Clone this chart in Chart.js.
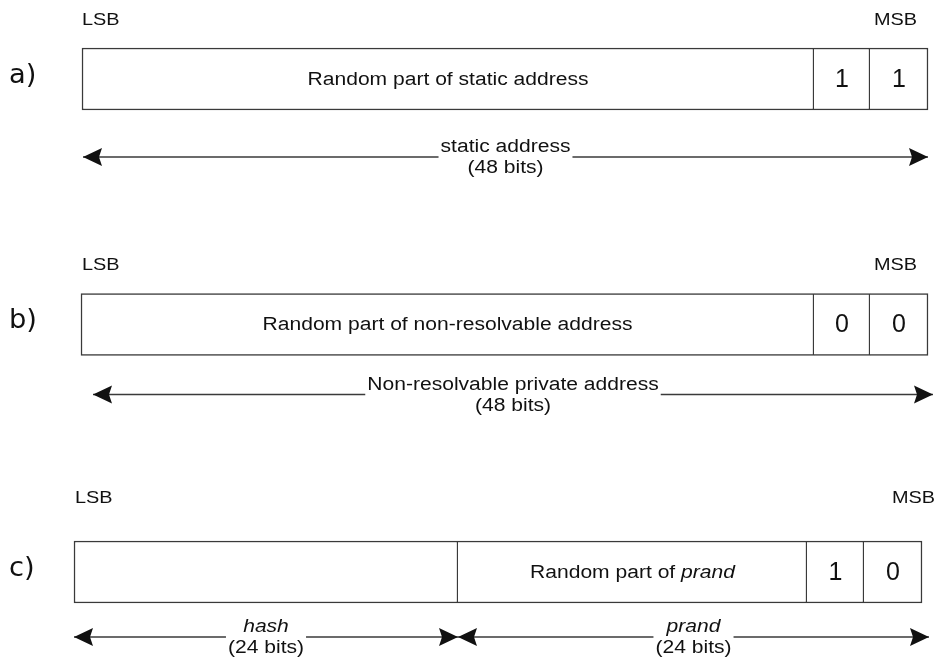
<!DOCTYPE html>
<html>
<head>
<meta charset="utf-8">
<script src="https://cdn.jsdelivr.net/npm/chart.js@4/dist/chart.umd.min.js"></script>
<style>
  body { margin: 0; background: #fff; }
  #wrap { width: 937px; height: 661px; }
</style>
</head>
<body>
<div id="wrap"><canvas id="diagram"></canvas></div>
<script>
// rows of the address diagram
const rowNames = ['a)', 'b)', 'c)'];
const rowY = [79, 324.5, 572];
const cellEdges = [
    [82, 814, 870, 928],
    [81, 814, 870, 928],
    [74, 458, 807, 864, 922],
];
const cellTexts = [
    ['Random part of static address', '1', '1'],
    ['Random part of non-resolvable address', '0', '0'],
    ['', 'Random part of *prand*', '1', '0'],
];

// dimension arrows under each row
const arrowY = [157, 394.5, 637];
const arrowSpans = [
    [[83, 928]],
    [[93, 933]],
    [[74, 458], [458, 929]],
];
const arrowNames = [
    ['static address'],
    ['Non-resolvable private address'],
    ['*hash*', '*prand*'],
];
const arrowBits = [[48], [48], [24, 24]];

// LSB / MSB markers: [lsb x, msb x, baseline]
const markerPos = [[82, 917, 25], [82, 917, 270], [75, 935, 503]];

const SX = 1.17; // source text is a bit wide
const INK = '#111';
const LINE = '#3a3a3a';
const SANS = '"Liberation Sans", Arial, sans-serif';
const bodyFont = (it) => (it ? 'italic ' : '') + '18px ' + SANS;

const mctx = document.createElement('canvas').getContext('2d');

function parts(str) {
    // *text* means italic
    return str.split('*').map((s, i) => ({ s: s, it: i % 2 == 1 })).filter(p => p.s);
}

function widthOf(str) {
    let w = 0;
    parts(str).forEach(p => {
        mctx.font = bodyFont(p.it);
        w += mctx.measureText(p.s).width * SX;
    });
    return w;
}

function drawRich(ctx, str, cx, y, baseline) {
    let x = cx - widthOf(str) / 2;
    parts(str).forEach(p => {
        ctx.save();
        ctx.font = bodyFont(p.it);
        ctx.textAlign = 'left';
        ctx.textBaseline = baseline;
        ctx.translate(x, y);
        ctx.scale(SX, 1);
        ctx.fillText(p.s, 0, 0);
        ctx.restore();
        mctx.font = bodyFont(p.it);
        x += mctx.measureText(p.s).width * SX;
    });
}

function drawText(ctx, str, x, y, font, align, baseline, sx) {
    ctx.save();
    ctx.font = font;
    ctx.textAlign = align;
    ctx.textBaseline = baseline;
    ctx.translate(x, y);
    ctx.scale(sx || SX, 1);
    ctx.fillText(str, 0, 0);
    ctx.restore();
}

// cells as floating bars
const cells = [];
const firstCell = [];
cellEdges.forEach((edges, r) => {
    for (let i = 0; i < edges.length - 1; i++) {
        cells.push({ y: rowY[r], x: [edges[i], edges[i + 1]] });
        firstCell.push(i == 0);
    }
});

// arrow shafts, broken around the label
const shafts = [];
arrowSpans.forEach((spans, r) => {
    spans.forEach((sp, k) => {
        const mid = (sp[0] + sp[1]) / 2;
        const gap = Math.max(widthOf(arrowNames[r][k]), widthOf('(' + arrowBits[r][k] + ' bits)')) + 4;
        shafts.push([{ x: sp[0], y: arrowY[r] }, { x: mid - gap / 2, y: arrowY[r] }]);
        shafts.push([{ x: mid + gap / 2, y: arrowY[r] }, { x: sp[1], y: arrowY[r] }]);
    });
});

const datasets = [{
    type: 'bar',
    data: cells,
    backgroundColor: '#fff',
    borderColor: LINE,
    borderSkipped: false,
    borderWidth: c => firstCell[c.dataIndex] ? 1.5 : { top: 1.5, right: 1.5, bottom: 1.5, left: 0 },
    barThickness: 62,
}];
shafts.forEach(s => {
    datasets.push({
        type: 'line',
        data: s,
        borderColor: LINE,
        borderWidth: 1.4,
        pointRadius: 0,
        fill: false,
    });
});

const labelsPlugin = {
    id: 'labels',
    afterDatasetsDraw(chart) {
        const ctx = chart.ctx;
        const xs = chart.scales.x, ys = chart.scales.y;
        ctx.save();
        ctx.fillStyle = INK;

        rowNames.forEach((name, r) => {
            const cy = ys.getPixelForValue(rowY[r]);
            drawText(ctx, name, 9, cy - 3, '26px "DejaVu Sans", sans-serif', 'left', 'middle', 1.05);

            const m = markerPos[r];
            drawText(ctx, 'LSB', m[0], m[2], '17px ' + SANS, 'left', 'alphabetic');
            drawText(ctx, 'MSB', m[1], m[2], '17px ' + SANS, 'right', 'alphabetic');

            const edges = cellEdges[r];
            cellTexts[r].forEach((t, i) => {
                if (!t) return;
                const cx = xs.getPixelForValue((edges[i] + edges[i + 1]) / 2);
                if (t.length == 1) {
                    drawText(ctx, t, cx, cy + 1, '25px ' + SANS, 'center', 'middle', 1.0);
                } else {
                    drawRich(ctx, t, cx, cy + 1, 'middle');
                }
            });

            // arrowheads and arrow labels
            const ay = ys.getPixelForValue(arrowY[r]);
            arrowSpans[r].forEach((sp, k) => {
                const x0 = xs.getPixelForValue(sp[0]);
                const x1 = xs.getPixelForValue(sp[1]);
                [[x0, 1], [x1, -1]].forEach(([tx, d]) => {
                    ctx.beginPath();
                    ctx.moveTo(tx, ay);
                    ctx.lineTo(tx + d * 19, ay - 9);
                    ctx.lineTo(tx + d * 16, ay);
                    ctx.lineTo(tx + d * 19, ay + 9);
                    ctx.closePath();
                    ctx.fill();
                });
                const mid = (x0 + x1) / 2;
                drawRich(ctx, arrowNames[r][k], mid, ay - 5, 'alphabetic');
                drawRich(ctx, '(' + arrowBits[r][k] + ' bits)', mid, ay + 16, 'alphabetic');
            });
        });
        ctx.restore();
    }
};

new Chart(document.getElementById('diagram'), {
    type: 'bar',
    data: { datasets: datasets },
    options: {
        indexAxis: 'y',
        responsive: true,
        maintainAspectRatio: false,
        animation: false,
        events: [],
        layout: { padding: 0 },
        scales: {
            x: { type: 'linear', min: 0, max: 937, display: false },
            y: { type: 'linear', min: 0, max: 661, reverse: true, offset: false, display: false },
        },
        plugins: {
            legend: { display: false },
            tooltip: { enabled: false },
        }
    },
    plugins: [labelsPlugin]
});
</script>
</body>
</html>
